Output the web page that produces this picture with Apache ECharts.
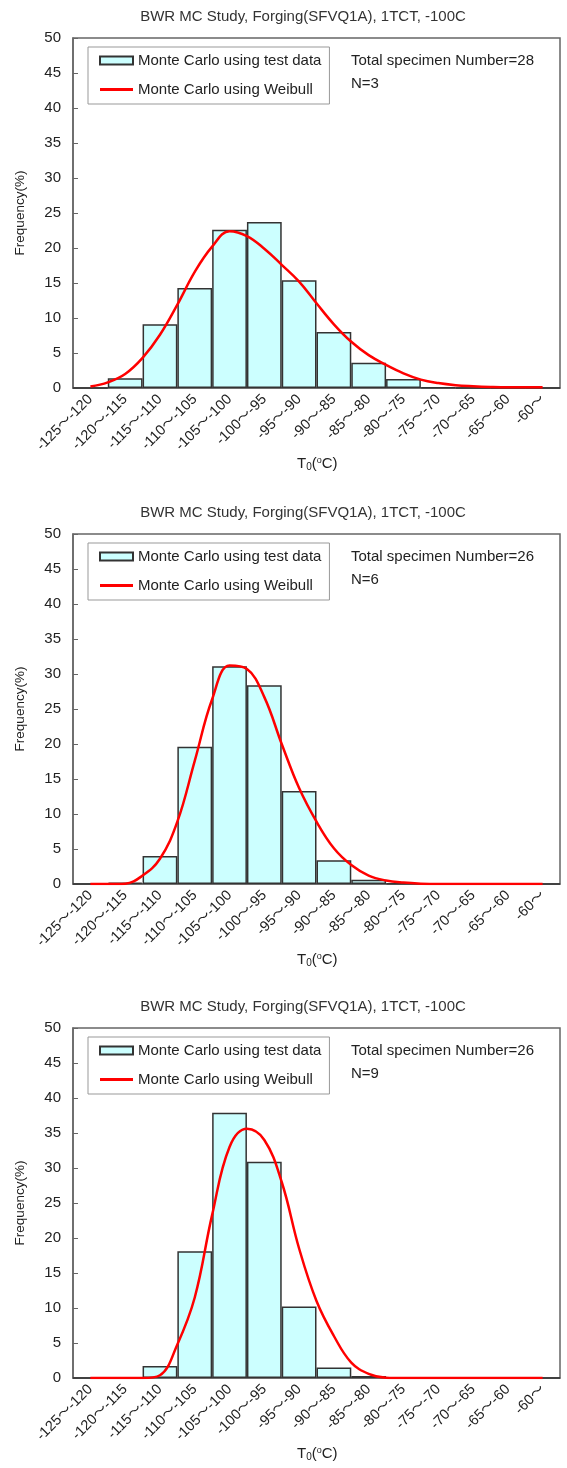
<!DOCTYPE html>
<html><head><meta charset="utf-8">
<script src="https://cdn.jsdelivr.net/npm/echarts@6/dist/echarts.min.js"></script>
<style>html,body{margin:0;padding:0;background:#fff}#c{width:567px;height:1468px}</style>
</head><body><div id="c"></div>
<script>
const categories = ['-125〜-120','-120〜-115','-115〜-110','-110〜-105','-105〜-100','-100〜-95','-95〜-90','-90〜-85','-85〜-80','-80〜-75','-75〜-70','-70〜-65','-65〜-60','-60〜'];
const lineT = [-122.5,-120,-117.5,-115,-112.5,-110,-107.5,-105,-102.5,-100,-97.5,-95,-92.5,-90,-87.5,-85,-82.5,-80,-77.5,-75,-72.5,-70,-67.5,-65,-62.5,-60,-57.5];
const barsN3 = [0,1.4,9.1,14.3,22.6,23.7,15.4,8.0,3.6,1.3,0.1,0,0,0];
const lineN3 = [0.2,0.8,2.0,4.3,7.6,11.9,16.6,20.2,22.4,21.7,19.9,17.6,15.2,12.1,9.1,6.6,4.7,3.3,2.1,1.2,0.7,0.4,0.25,0.15,0.1,0.1,0.1];
const barsN6 = [0,0.2,4.0,19.6,31.1,28.4,13.3,3.4,0.6,0.1,0,0,0,0];
const lineN6 = [0,0,0.05,1.2,3.6,8.9,17.6,26.4,31.2,30.7,26.7,20.0,13.7,8.9,5.1,2.7,1.2,0.5,0.2,0.05,0,0,0,0,0,0,0];
const barsN9 = [0,0,1.7,18.1,37.9,30.9,10.2,1.5,0.3,0,0,0,0,0];
const lineN9 = [0,0,0,0,0.4,4.8,11.5,23.3,33.0,35.6,34.0,28.0,18.5,11.0,6.0,2.2,0.6,0.05,0,0,0,0,0,0,0,0,0];
const yMin = 0, yMax = 50, yInterval = 5;
const chartTitle = 'BWR MC Study, Forging(SFVQ1A), 1TCT, -100C';
const specimenTexts = ['Total specimen Number=28','Total specimen Number=26','Total specimen Number=26'];
const nTexts = ['N=3','N=6','N=9'];
const barName = 'Monte Carlo using test data';
const lineName = 'Monte Carlo using Weibull';
const panels = [
  {bars: barsN3, line: lineN3, off: 0},
  {bars: barsN6, line: lineN6, off: 496},
  {bars: barsN9, line: lineN9, off: 990}
];
const FONT = "'Liberation Sans', Arial, 'Noto Sans CJK JP', sans-serif";
const axisColor = '#666';

const chart = echarts.init(document.getElementById('c'), null, {renderer: 'canvas'});
const option = {
  backgroundColor: '#fff',
  animation: false,
  textStyle: {fontFamily: FONT},
  title: [], grid: [], xAxis: [], yAxis: [], series: [], legend: [], graphic: []
};
panels.forEach((p, k) => {
  const off = p.off;
  option.title.push({text: chartTitle, left: 303, top: off + 9, textAlign: 'center', padding: 0,
    textStyle: {fontSize: 15, fontWeight: 'normal', color: '#333', fontFamily: FONT}});
  option.grid.push({left: 73, right: 7, top: 38 + off, height: 350, show: true, borderColor: axisColor, borderWidth: 1.5, backgroundColor: 'transparent'});
  option.xAxis.push({type: 'category', gridIndex: k, data: categories, boundaryGap: true,
    axisLine: {lineStyle: {color: axisColor, width: 1.5}},
    axisTick: {inside: true, length: 4, lineStyle: {color: axisColor}},
    axisLabel: {rotate: 45, margin: 9, interval: 0, fontSize: 14.5, color: '#222', fontFamily: FONT},
    splitLine: {show: false}});
  option.xAxis.push({type: 'value', gridIndex: k, min: -125, max: -55, show: false});
  option.yAxis.push({type: 'value', gridIndex: k, min: yMin, max: yMax, interval: yInterval,
    name: 'Frequency(%)', nameLocation: 'middle', nameGap: 46, nameRotate: 90,
    nameTextStyle: {fontSize: 13.5, color: '#222', fontFamily: FONT},
    axisLine: {show: true, lineStyle: {color: axisColor, width: 1.5}},
    axisTick: {show: true, inside: true, length: 5, lineStyle: {color: axisColor}},
    axisLabel: {fontSize: 15, color: '#222', margin: 12, fontFamily: FONT},
    splitLine: {show: false}});
  option.series.push({name: barName, type: 'bar', xAxisIndex: 2 * k, yAxisIndex: k, data: p.bars,
    barCategoryGap: '0%', itemStyle: {color: '#ccffff', borderColor: '#333', borderWidth: 1.5}});
  option.series.push({name: lineName, type: 'line', xAxisIndex: 2 * k + 1, yAxisIndex: k,
    data: lineT.map((t, i) => [t, p.line[i]]), smooth: 0.4, symbol: 'none',
    lineStyle: {color: '#ff0000', width: 2.5}, itemStyle: {color: '#ff0000'}, z: 5});
  option.legend.push({
    data: [{name: barName, icon: 'rect'}, {name: lineName, icon: 'path://M0,0 L33,0 L33,3 L0,3 Z'}],
    orient: 'vertical', left: 88, top: 47 + off,
    backgroundColor: '#fff', borderColor: '#999', borderWidth: 1, padding: [6, 8, 7, 11],
    itemGap: 14, itemWidth: 33, itemHeight: 8, selectedMode: false,
    textStyle: {fontSize: 15, color: '#222', fontFamily: FONT}});
  option.graphic.push({type: 'text', left: 351, top: off + 53, style: {text: specimenTexts[k], font: '15px ' + FONT, fill: '#222'}});
  option.graphic.push({type: 'text', left: 351, top: off + 76, style: {text: nTexts[k], font: '15px ' + FONT, fill: '#222'}});
  option.graphic.push({type: 'text', left: 297, top: off + 456, style: {
    text: 'T{s|0}({p|o}C)', font: '15px ' + FONT, fill: '#222',
    rich: {s: {fontSize: 10, padding: [7, 0, 0, 0], fill: '#222'}, p: {fontSize: 9, padding: [0, 0, 7, 0], fill: '#222'}}}});
});
chart.setOption(option);
</script></body></html>
